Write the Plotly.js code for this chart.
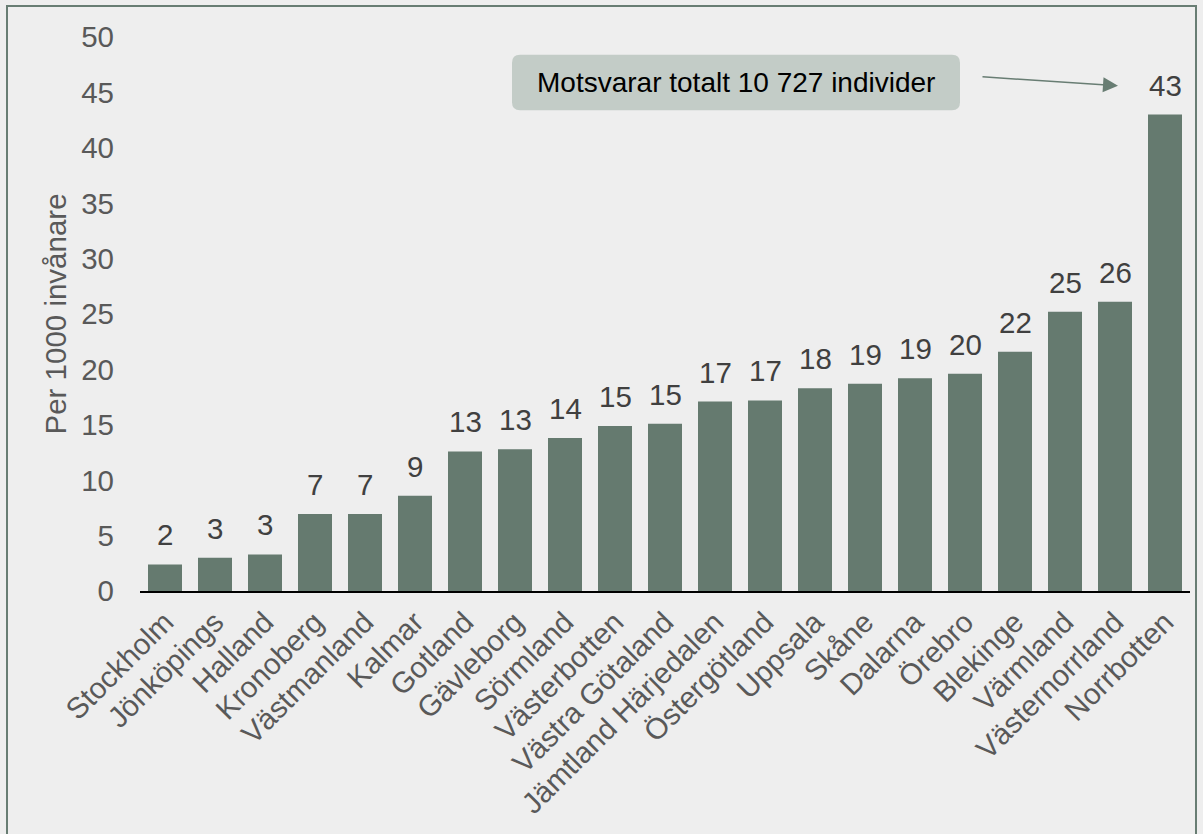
<!DOCTYPE html>
<html>
<head>
<meta charset="utf-8">
<script src="https://cdn.plot.ly/plotly-3.0.1.min.js"></script>
<style>
html,body{margin:0;padding:0;background:#eeeeee;}
#chart{width:1203px;height:834px;}
</style>
</head>
<body>
<div id="chart"></div>
<script>
const categories = ["Stockholm","Jönköpings","Halland","Kronoberg","Västmanland","Kalmar","Gotland","Gävleborg","Sörmland","Västerbotten","Västra Götaland","Jämtland Härjedalen","Östergötland","Uppsala","Skåne","Dalarna","Örebro","Blekinge","Värmland","Västernorrland","Norrbotten"];
const values = [2.4, 3.0, 3.3, 6.95, 6.95, 8.6, 12.6, 12.8, 13.8, 14.9, 15.1, 17.1, 17.2, 18.3, 18.7, 19.2, 19.6, 21.6, 25.2, 26.1, 43.0];
const valueLabels = ["2","3","3","7","7","9","13","13","14","15","15","17","17","18","19","19","20","22","25","26","43"];
const yTicks = [0,5,10,15,20,25,30,35,40,45,50];
const yTitle = "Per 1000 invånare";
const calloutText = "Motsvarar totalt 10 727 individer";

const FONT = "Arial, 'Liberation Sans', sans-serif";
const FS = 29.5;
const barColor = "#657a6f";
const frameColor = "#687d73";

const trace = {
  type: "bar",
  x: categories,
  y: values,
  marker: {color: barColor},
  hoverinfo: "x+y"
};

const valueAnnotations = categories.map((c, i) => ({
  x: c, y: values[i], xref: "x", yref: "y",
  text: valueLabels[i], showarrow: false,
  yanchor: "bottom", xanchor: "center", yshift: 11,
  font: {family: FONT, size: FS, color: "#404040"}
}));

// callout box (rounded) in data coordinates
const bx0 = 6.94, bx1 = 15.9, by0 = 43.4, by1 = 48.4, rx = 0.16, ry = 0.72;
const boxPath = `M ${bx0+rx},${by0} L ${bx1-rx},${by0} Q ${bx1},${by0} ${bx1},${by0+ry} L ${bx1},${by1-ry} Q ${bx1},${by1} ${bx1-rx},${by1} L ${bx0+rx},${by1} Q ${bx0},${by1} ${bx0},${by1-ry} L ${bx0},${by0+ry} Q ${bx0},${by0} ${bx0+rx},${by0} Z`;

const layout = {
  width: 1203, height: 834,
  margin: {l: 140, r: 13, t: 37, b: 243, autoexpand: false},
  paper_bgcolor: "#eeeeee",
  plot_bgcolor: "#eeeeee",
  showlegend: false,
  bargap: 0.32,
  font: {family: FONT, size: FS, color: "#595959"},
  xaxis: {
    type: "category",
    tickangle: -45,
    showgrid: false,
    showline: true, linecolor: "#000000", linewidth: 2,
    ticks: "",
    tickfont: {family: FONT, size: FS, color: "#595959"},
    automargin: false,
    zeroline: false
  },
  yaxis: {
    range: [0, 50],
    tickvals: yTicks,
    ticktext: yTicks.map(String),
    showgrid: false, zeroline: false, showline: false,
    ticks: "",
    ticklabelstandoff: 25,
    tickfont: {family: FONT, size: FS, color: "#595959"},
    title: {text: yTitle, font: {family: FONT, size: FS, color: "#595959"}, standoff: 5},
    automargin: false
  },
  shapes: [
    {type: "rect", xref: "paper", yref: "paper",
     x0: (7-140)/1050, x1: (1196-140)/1050, y0: -0.6, y1: (591-6)/554,
     line: {color: frameColor, width: 2}, fillcolor: "rgba(0,0,0,0)", layer: "below"},
    {type: "path", xref: "x", yref: "y", path: boxPath,
     fillcolor: "#c3ccc7", line: {width: 0}, layer: "above"}
  ],
  annotations: valueAnnotations.concat([
    {x: (bx0+bx1)/2, y: (by0+by1)/2, xref: "x", yref: "y", text: calloutText,
     showarrow: false, font: {family: FONT, size: 28, color: "#000000"}},
    {x: 19.06, y: 45.6, xref: "x", yref: "y", text: "", showarrow: true,
     ax: -137, ay: -9, arrowhead: 2, arrowsize: 2, arrowwidth: 1.5, arrowcolor: frameColor}
  ])
};

Plotly.newPlot("chart", [trace], layout, {displayModeBar: false, responsive: false});
</script>
</body>
</html>
